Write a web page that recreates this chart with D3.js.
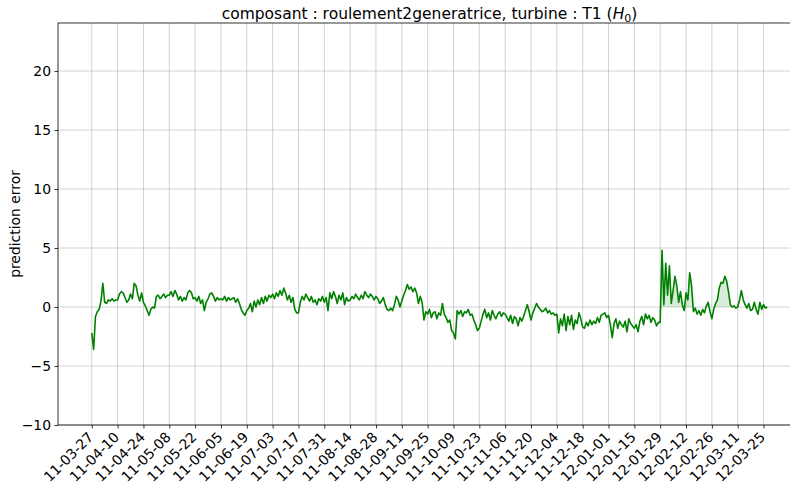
<!DOCTYPE html>
<html>
<head>
<meta charset="utf-8">
<script src="https://cdn.jsdelivr.net/npm/d3@7"></script>
<style>
    body { margin: 0; background: #fff; }
    text { font-family: "DejaVu Sans", sans-serif; fill: #000; }
</style>
</head>
<body>
<svg id="chart" width="790" height="483"></svg>
<script>
// daily prediction error, first value on 2011-03-27
const firstDay = "2011-03-27";

const errSpring = [
    -2.2, -3.6, -0.8, -0.4, -0.2, 0.5, 2.0, 0.4, 0.3, 0.6, 0.5, 0.7, 0.5, 0.6,
    0.6, 1.1, 1.3, 1.2, 0.8, 0.4, 0.6, 1.1, 0.7, 2.0, 1.8, 1.0, 0.5, 1.2,
    0.4, 0.1, -0.3, -0.7, -0.2, 0.0, -0.1, 0.9, 1.0, 0.7, 0.9, 1.1, 0.8, 1.0,
    1.0, 1.3, 0.9, 1.4, 1.1, 0.6, 0.9, 0.5, 0.8, 0.6, 1.2, 1.4, 1.2, 0.7,
    0.8, 0.5, 0.9, 0.3, 0.6, -0.3, 0.4, 0.7, 1.1, 1.2, 0.9, 0.5, 0.8, 0.6
];
const errSummer = [
    0.7, 0.6, 0.9, 0.5, 0.8, 0.6, 0.7, 0.8, 0.4, 0.7, 0.3, -0.2, -0.5, -0.7,
    -0.3, -0.1, 0.3, -0.4, 0.5, 0.0, 0.6, 0.2, 0.8, 0.3, 0.9, 0.5, 1.0, 0.8,
    1.1, 0.7, 1.2, 0.9, 1.4, 1.0, 1.6, 1.2, 0.6, 1.0, 0.4, 0.8, -0.2, -0.5,
    -0.5, 0.4, 0.9, 0.6, 1.1, 0.8, 0.5, 0.9, 0.4, 0.6, 0.2, 0.7, 0.5, 0.9,
    0.4, 0.8, -0.3, 1.2, 0.7, 1.3, 0.9, 0.3, 1.0, 0.6, 1.2, 0.2, 0.8, 0.5,
    0.6, 0.9, 0.7, 1.1, 0.8, 0.6, 1.0, 0.7, 1.3, 1.0, 0.8, 1.1, 0.9, 0.6,
    0.9, 0.7, 0.3, 0.5, 0.8, 0.2, -0.2, -0.3, -0.1, -0.3, 0.2, 0.9, 0.6, 0.0
];
const errAutumn = [
    0.5, 1.0, 1.4, 1.9, 1.5, 1.7, 1.3, 1.6, 1.2, 0.3, 0.9, 0.4, -1.1, -0.4,
    -0.6, -0.2, -0.9, -0.5, -0.4, -1.0, -0.5, -0.7, 0.3, -0.6, -0.9, -1.3, -1.1, -2.0,
    -2.2, -2.7, -0.3, -0.6, -0.3, -0.8, -0.4, -0.5, -0.2, -0.7, -0.6, -1.1, -1.5, -2.0,
    -1.8, -1.2, -0.6, -0.2, -0.9, -0.5, -1.1, -0.3, -0.7, -1.0, -0.6, -0.4, -0.8, -0.5,
    -0.6, -0.9, -1.2, -0.7, -1.4, -0.8, -1.0, -1.6, -0.9, -1.2, -0.8, -0.3, 0.2, -0.4,
    -1.1, -0.5, -0.1, 0.3, 0.0, -0.2, -0.4, -0.3, -0.1, -0.5, -0.3, -0.6, -0.5, -0.7
];
const errWinter = [
    -0.6, -2.2, -1.0, -1.6, -0.6, -2.0, -0.8, -1.5, -0.7, -1.9, -1.1, -1.4, -0.5, -1.0,
    -1.7, -1.8, -1.3, -1.6, -1.1, -1.5, -1.2, -1.4, -0.9, -1.3, -0.7, -0.6, -0.5, -0.9,
    -0.7, -1.5, -2.6, -1.4, -1.0, -1.8, -1.2, -1.5, -1.7, -1.2, -2.1, -1.0, -1.4, -1.6,
    -1.8, -1.5, -2.1, -1.2, -0.8, -1.5, -0.6, -1.0, -0.7, -1.3, -0.9, -1.1, -1.6, -1.3,
    -1.3, 4.8, 0.2, 3.7, 1.0, 3.5, 0.3, 1.4, 2.6, 1.8, 0.4, 1.3, 0.2, -0.3,
    1.2, 0.6, 2.9, 1.8, -0.4, -0.1, -0.6, -0.3, -0.7, -0.2, -0.5, 0.1, 0.4, -0.4,
    -1.0, -0.2, 0.3, 0.6, 1.6, 2.1, 2.0, 2.6, 2.2, 1.3, 0.2, 0.0, 0.1, -0.1,
    0.0, 0.6, 1.4, 0.6, 0.2, -0.1, 0.3, -0.3, -0.2, 0.4, -0.2, -0.6, 0.4, -0.2,
    0.2, -0.1, 0.0
];

// shaded stretch (between the curve and zero)
const shadeFrom = "2012-01-29";
const shadeTo = "2012-03-08";

const xTickLabels = [
    "11-03-27", "11-04-10", "11-04-24", "11-05-08", "11-05-22", "11-06-05", "11-06-19",
    "11-07-03", "11-07-17", "11-07-31", "11-08-14", "11-08-28", "11-09-11", "11-09-25",
    "11-10-09", "11-10-23", "11-11-06", "11-11-20", "11-12-04", "11-12-18", "12-01-01",
    "12-01-15", "12-01-29", "12-02-12", "12-02-26", "12-03-11", "12-03-25"
];
const yTicks = [-10, -5, 0, 5, 10, 15, 20];
const yMin = -10, yMax = 24.07;

const parse = d3.utcParse("%Y-%m-%d");
const parseTick = d3.utcParse("%y-%m-%d");

let values = errSpring.concat(errSummer, errAutumn, errWinter);
let t0 = parse(firstDay);
let data = values.map((v, i) => ({ date: d3.utcDay.offset(t0, i), v: v }));

const m = { left: 58, right: 801, top: 23, bottom: 425 };
const svg = d3.select('#chart');

let first = data[0].date, last = data[data.length - 1].date;
let span = last - first;
let xscale = d3.scaleUtc()
    .domain([new Date(+first - span * 0.05), new Date(+last + span * 0.05)])
    .range([m.left, m.right]);
let yscale = d3.scaleLinear()
    .domain([yMin, yMax])
    .range([m.bottom, m.top]);

let tickDates = xTickLabels.map(s => parseTick(s));

// grid
svg.append('g')
    .selectAll('line')
    .data(tickDates)
    .join('line')
    .attr('x1', d => xscale(d)).attr('x2', d => xscale(d))
    .attr('y1', m.top).attr('y2', m.bottom)
    .attr('stroke', '#b0b0b0').attr('stroke-width', 0.8).attr('opacity', 0.7);
svg.append('g')
    .selectAll('line')
    .data(yTicks)
    .join('line')
    .attr('x1', m.left).attr('x2', m.right)
    .attr('y1', d => yscale(d)).attr('y2', d => yscale(d))
    .attr('stroke', '#b0b0b0').attr('stroke-width', 0.8).attr('opacity', 0.7);

// shaded area
let s0 = parse(shadeFrom), s1 = parse(shadeTo);
let shadeData = data.filter(d => d.date >= s0 && d.date <= s1);
let area = d3.area()
    .x(d => xscale(d.date))
    .y0(yscale(0))
    .y1(d => yscale(Math.max(0, d.v)));
svg.append('path')
    .datum(shadeData)
    .attr('d', area)
    .attr('fill', 'green')
    .attr('opacity', 0.15);

// line
let line = d3.line()
    .x(d => xscale(d.date))
    .y(d => yscale(d.v));
svg.append('path')
    .datum(data)
    .attr('d', line)
    .attr('fill', 'none')
    .attr('stroke', 'green')
    .attr('stroke-width', 1.6)
    .attr('stroke-linejoin', 'round');

// axes
let xaxis = d3.axisBottom(xscale)
    .tickValues(tickDates)
    .tickSize(3.5)
    .tickFormat((d, i) => xTickLabels[i]);
let gx = svg.append('g')
    .attr('transform', `translate(0, ${m.bottom})`)
    .call(xaxis);
gx.select('.domain').remove();
gx.selectAll('line').attr('stroke', '#000').attr('stroke-width', 0.8);
gx.selectAll('text')
    .attr('font-size', 13.9)
    .attr('font-family', '"DejaVu Sans", sans-serif')
    .attr('text-anchor', 'end')
    .attr('dy', null)
    .attr('y', null)
    .attr('transform', 'translate(2, 13) rotate(-45)');

let yaxis = d3.axisLeft(yscale)
    .tickValues(yTicks)
    .tickSize(3.5)
    .tickFormat(d => d < 0 ? '\u2212' + Math.abs(d) : d);
let gy = svg.append('g')
    .attr('transform', `translate(${m.left}, 0)`)
    .call(yaxis);
gy.select('.domain').remove();
gy.selectAll('line').attr('stroke', '#000').attr('stroke-width', 0.8);
gy.selectAll('text')
    .attr('font-size', 13.9)
    .attr('font-family', '"DejaVu Sans", sans-serif')
    .attr('x', -7);

// frame
svg.append('rect')
    .attr('x', m.left).attr('y', m.top)
    .attr('width', m.right - m.left).attr('height', m.bottom - m.top)
    .attr('fill', 'none')
    .attr('stroke', '#000')
    .attr('stroke-width', 0.8);

// labels
let title = svg.append('text')
    .attr('x', (m.left + m.right) / 2)
    .attr('y', 19)
    .attr('text-anchor', 'middle')
    .attr('font-size', 15.5);
title.append('tspan').text('composant : roulement2generatrice, turbine : T1 (');
title.append('tspan').attr('font-style', 'italic').text('H');
title.append('tspan').attr('font-size', 11).attr('dy', 3).text('0');
title.append('tspan').attr('dy', -3).text(')');

svg.append('text')
    .attr('transform', `translate(20, ${(m.top + m.bottom) / 2}) rotate(-90)`)
    .attr('text-anchor', 'middle')
    .attr('font-size', 13.9)
    .text('prediction error');
</script>
</body>
</html>
